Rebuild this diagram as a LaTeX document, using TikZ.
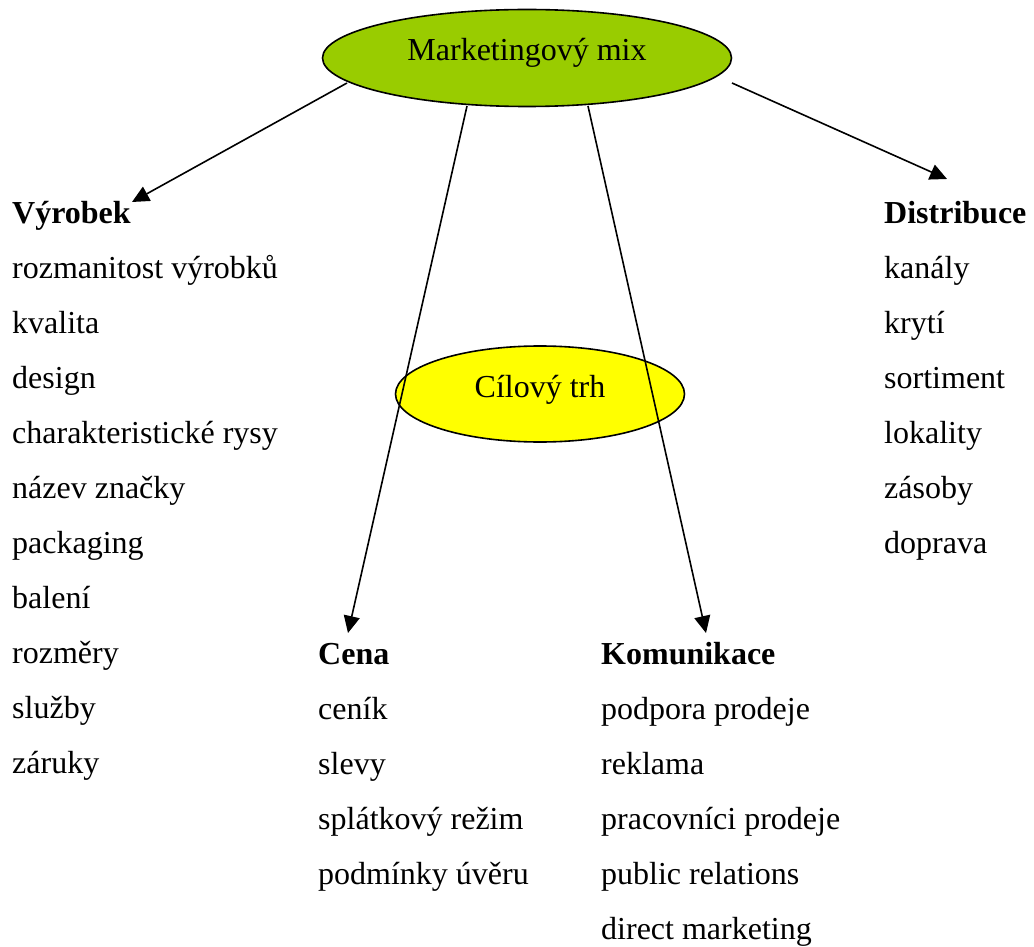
\documentclass[tikz,border=0pt]{standalone}
\usepackage{fontspec}
\setmainfont{Liberation Serif}
\usetikzlibrary{shapes.geometric,arrows.meta}
\definecolor{mixgreen}{RGB}{153,204,0}
\definecolor{trhyellow}{RGB}{255,255,0}
\tikzset{
  oval/.style={ellipse,draw=black,line width=1.6pt,inner sep=0pt},
  lbl/.style={anchor=base west,inner sep=0pt,font=\fontsize{32}{38}\selectfont},
  head/.style={lbl,font=\fontsize{32}{38}\selectfont\bfseries},
  conn/.style={line width=1.6pt,-{Triangle[length=17pt,width=16pt]}}
}
\begin{document}
\begin{tikzpicture}[x=1pt,y=-1pt]
\useasboundingbox (0,0) rectangle (1034,947);
% ellipses
\node[oval,fill=mixgreen,minimum width=409pt,minimum height=97pt] (mix) at (527,58) {};
\node[anchor=base,inner sep=0pt,font=\fontsize{32}{38}\selectfont] (mixt) at (527,61) {Marketingový mix};
\node[oval,fill=trhyellow,minimum width=289pt,minimum height=96pt] (trh) at (540,394) {};
\node[anchor=base,inner sep=0pt,font=\fontsize{32}{38}\selectfont] (trht) at (540,397) {Cílový trh};
% connector ends
\coordinate (s1) at (347,83);
\coordinate (s2) at (467,106);
\coordinate (s3) at (588,106);
\coordinate (s4) at (732,83);
\coordinate (e1) at (132,202);
\coordinate (e2) at (348,633);
\coordinate (e3) at (706,633);
\coordinate (e4) at (947,179);
% Výrobek
\node[head] (vyr) at (12,223) {Výrobek};
\node[lbl] (v1) at (12,278) {rozmanitost výrobků};
\node[lbl] (v2) at (12,333) {kvalita};
\node[lbl] (v3) at (12,388) {design};
\node[lbl] (v4) at (12,443) {charakteristické rysy};
\node[lbl] (v5) at (12,498) {název značky};
\node[lbl] (v6) at (12,553) {packaging};
\node[lbl] (v7) at (12,608) {balení};
\node[lbl] (v8) at (12,663) {rozměry};
\node[lbl] (v9) at (12,718) {služby};
\node[lbl] (v10) at (12,773) {záruky};
% Distribuce
\node[head] (dis) at (884,223) {Distribuce};
\node[lbl] (d1) at (884,278) {kanály};
\node[lbl] (d2) at (884,333) {krytí};
\node[lbl] (d3) at (884,388) {sortiment};
\node[lbl] (d4) at (884,443) {lokality};
\node[lbl] (d5) at (884,498) {zásoby};
\node[lbl] (d6) at (884,553) {doprava};
% Cena
\node[head] (cen) at (318,664) {Cena};
\node[lbl] (c1) at (318,719) {ceník};
\node[lbl] (c2) at (318,774) {slevy};
\node[lbl] (c3) at (318,829) {splátkový režim};
\node[lbl] (c4) at (318,884) {podmínky úvěru};
% Komunikace
\node[head] (kom) at (601,664) {Komunikace};
\node[lbl] (k1) at (601,719) {podpora prodeje};
\node[lbl] (k2) at (601,774) {reklama};
\node[lbl] (k3) at (601,829) {pracovníci prodeje};
\node[lbl] (k4) at (601,884) {public relations};
\node[lbl] (k5) at (601,939) {direct marketing};
% connectors
\draw[conn] (s1) -- (e1);
\draw[conn] (s2) -- (e2);
\draw[conn] (s3) -- (e3);
\draw[conn] (s4) -- (e4);
\end{tikzpicture}
\end{document}
